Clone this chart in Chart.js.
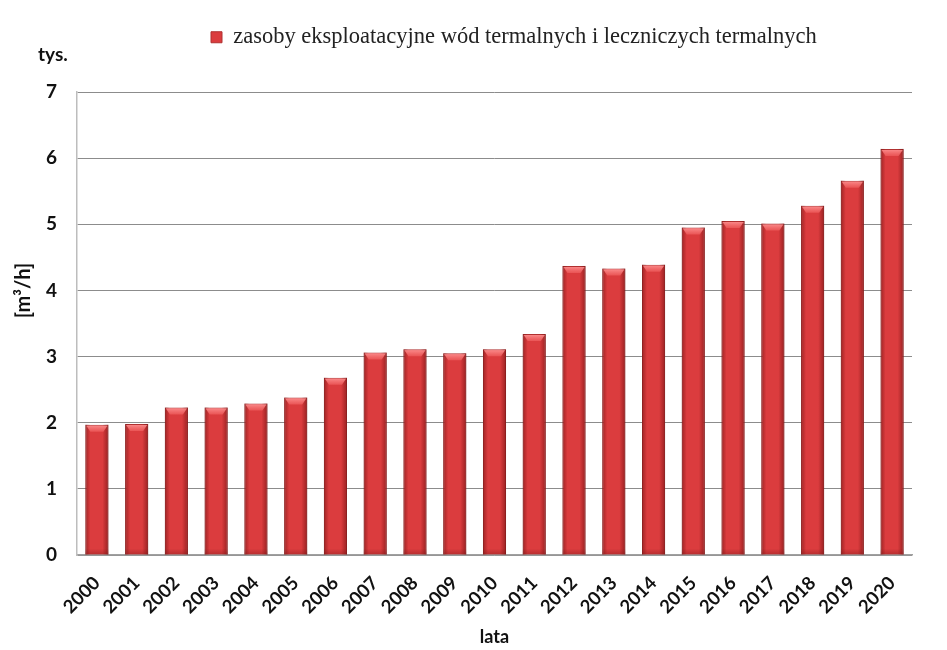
<!DOCTYPE html>
<html lang="pl">
<head>
<meta charset="utf-8">
<title>Zasoby eksploatacyjne wód termalnych</title>
<script src="https://cdn.jsdelivr.net/npm/chart.js@4.4.1/dist/chart.umd.min.js"></script>
<style>
  html, body { margin: 0; padding: 0; background: #fff; }
</style>
</head>
<body>
<canvas id="wykres" width="947" height="650"></canvas>
<script>
// dane (tys. m3/h)
var lata = ['2000', '2001', '2002', '2003', '2004', '2005', '2006', '2007', '2008', '2009', '2010',
            '2011', '2012', '2013', '2014', '2015', '2016', '2017', '2018', '2019', '2020'];
var zasoby = [1.97, 1.98, 2.23, 2.23, 2.29, 2.38, 2.68, 3.06, 3.11, 3.05, 3.11,
              3.34, 4.37, 4.33, 4.39, 4.95, 5.05, 5.01, 5.28, 5.66, 6.14];
var etykietaSerii = 'zasoby eksploatacyjne wód termalnych i leczniczych termalnych';
var jednostka = 'tys.';
var tytulY = '[m³/h]';

var czcionka = 'Lato, "Open Sans", sans-serif';

// przesuniecie legendy w miejsce jak na oryginale
var legendaPoz = {
    id: 'legendaPoz',
    afterLayout: function(chart) {
        var lg = chart.legend;
        var w = lg.width, h = lg.height;
        lg.left = 201; lg.right = lg.left + w;
        lg.top = 16; lg.bottom = lg.top + h;
    }
};

// napis "tys." i opis osi Y
var opisy = {
    id: 'opisy',
    afterDraw: function(chart) {
        var c = chart.ctx, a = chart.chartArea;
        c.save();
        c.fillStyle = '#111';
        c.textBaseline = 'middle';
        c.textAlign = 'left';
        c.font = 'bold 19px ' + czcionka;
        c.fillText(jednostka, a.left - 39, a.top - 37);
        c.translate(a.left - 53, chart.scales.y.getPixelForValue(4));
        c.rotate(-Math.PI / 2);
        c.textAlign = 'center';
        c.font = 'bold 20px ' + czcionka;
        c.fillText(tytulY, 0, 0);
        c.restore();
    }
};

// efekt wypuklych slupkow (jak w Excelu)
var slupki3d = {
    id: 'slupki3d',
    afterDatasetsDraw: function(chart) {
        var c = chart.ctx;
        var meta = chart.getDatasetMeta(0);
        meta.data.forEach(function(el) {
            var p = el.getProps(['x', 'y', 'base', 'width'], true);
            var l = p.x - p.width / 2, r = p.x + p.width / 2;
            var t = p.y, b = p.base;
            c.save();
            // ciemne krawedzie boczne
            var gL = c.createLinearGradient(l, 0, l + 5, 0);
            gL.addColorStop(0, 'rgba(110,15,15,0.55)');
            gL.addColorStop(1, 'rgba(110,15,15,0)');
            c.fillStyle = gL;
            c.fillRect(l, t, 5, b - t);
            var gR = c.createLinearGradient(r - 6, 0, r, 0);
            gR.addColorStop(0, 'rgba(110,15,15,0)');
            gR.addColorStop(1, 'rgba(110,15,15,0.6)');
            c.fillStyle = gR;
            c.fillRect(r - 6, t, 6, b - t);
            // jasna fazka na gorze
            var gT = c.createLinearGradient(0, t, 0, t + 7);
            gT.addColorStop(0, 'rgba(255,150,150,0.95)');
            gT.addColorStop(1, 'rgba(240,95,95,0.7)');
            c.fillStyle = gT;
            c.beginPath();
            c.moveTo(l + 1, t + 1);
            c.lineTo(r - 1, t + 1);
            c.lineTo(r - 5, t + 7);
            c.lineTo(l + 5, t + 7);
            c.closePath();
            c.fill();
            // delikatne przyciemnienie dolu
            var gB = c.createLinearGradient(0, b - 6, 0, b);
            gB.addColorStop(0, 'rgba(120,20,20,0)');
            gB.addColorStop(1, 'rgba(120,20,20,0.35)');
            c.fillStyle = gB;
            c.fillRect(l, b - 6, r - l, 6);
            c.restore();
        });
    }
};

var ctx = document.getElementById('wykres');
var wykres = new Chart(ctx, {
    type: 'bar',
    data: {
        labels: lata,
        datasets: [{
            label: etykietaSerii,
            data: zasoby,
            backgroundColor: '#db3c3e',
            borderColor: '#b03030',
            borderWidth: 1,
            barPercentage: 0.58,
            categoryPercentage: 1.0
        }]
    },
    options: {
        responsive: false,
        animation: false,
        devicePixelRatio: 1,
        layout: { padding: { left: 0, right: 35, top: 49.5, bottom: 0 } },
        plugins: {
            legend: {
                position: 'top',
                align: 'start',
                labels: {
                    boxWidth: 11,
                    boxHeight: 11,
                    padding: 10,
                    color: '#222',
                    font: { family: '"Liberation Serif", "DejaVu Serif", serif', size: 22.5 }
                }
            },
            tooltip: { enabled: false }
        },
        scales: {
            x: {
                grid: { display: false },
                border: { display: true, color: '#a0a0a0', width: 1.5 },
                ticks: {
                    color: '#111',
                    maxRotation: 45,
                    minRotation: 45,
                    padding: 9,
                    font: { family: czcionka, size: 18.5, weight: 'bold' }
                },
                title: {
                    display: true,
                    text: 'lata',
                    color: '#111',
                    padding: { top: 4, bottom: 2 },
                    font: { family: czcionka, size: 18, weight: 'bold' }
                },
                afterFit: function(s) { s.height = 95; }
            },
            y: {
                min: 0,
                max: 7,
                ticks: {
                    stepSize: 1,
                    color: '#111',
                    padding: 20,
                    font: { family: czcionka, size: 19, weight: 'bold' }
                },
                grid: { color: '#8c8c8c', drawTicks: false, lineWidth: 1 },
                border: { display: true, color: '#bdbdbd', width: 1.5 },
                afterFit: function(s) { s.width = 77; }
            }
        }
    },
    plugins: [legendaPoz, opisy, slupki3d]
});
</script>
</body>
</html>
